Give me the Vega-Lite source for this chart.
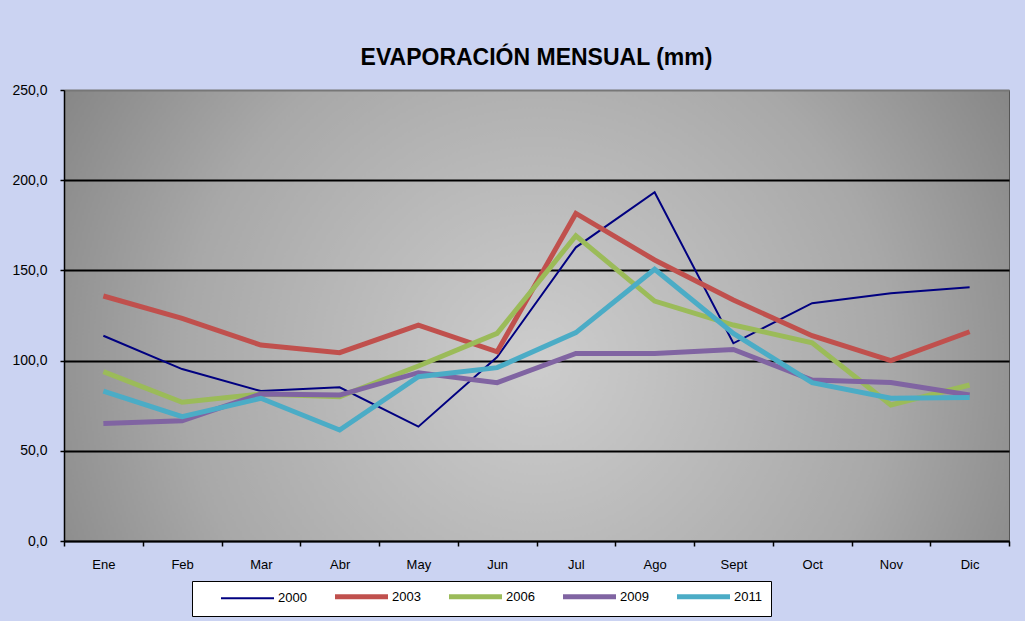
{
  "$schema": "https://vega.github.io/schema/vega-lite/v6.json",
  "width": 945,
  "height": 451,
  "autosize": "none",
  "padding": {"left": 64, "top": 90, "right": 16, "bottom": 80},
  "background": "#cbd3f2",
  "title": {
    "text": "EVAPORACIÓN  MENSUAL (mm)",
    "font": "Liberation Sans",
    "fontSize": 23,
    "fontWeight": "bold",
    "color": "black",
    "anchor": "middle",
    "offset": 13
  },
  "config": {
    "view": {
      "stroke": "#555555",
      "strokeWidth": 1,
      "fill": {
        "gradient": "radial",
        "x1": 0.5, "y1": 0.55, "r1": 0,
        "x2": 0.5, "y2": 0.55, "r2": 0.75,
        "stops": [
          {"offset": 0, "color": "#cdcdcd"},
          {"offset": 0.5, "color": "#a8a8a8"},
          {"offset": 1, "color": "#6a6a6a"}
        ]
      }
    },
    "axis": {
      "labelFont": "Liberation Sans",
      "labelFontSize": 13,
      "labelColor": "black",
      "domainColor": "black",
      "domainWidth": 1.5,
      "tickColor": "black",
      "tickWidth": 1.5,
      "tickSize": 5
    }
  },
  "data": {
    "values": [
      {"mes": "Ene", "anio": "2000", "v": 113.8},
      {"mes": "Feb", "anio": "2000", "v": 95.3},
      {"mes": "Mar", "anio": "2000", "v": 83.1},
      {"mes": "Abr", "anio": "2000", "v": 85.2},
      {"mes": "May", "anio": "2000", "v": 63.4},
      {"mes": "Jun", "anio": "2000", "v": 102.0},
      {"mes": "Jul", "anio": "2000", "v": 162.8},
      {"mes": "Ago", "anio": "2000", "v": 193.3},
      {"mes": "Sept", "anio": "2000", "v": 109.6},
      {"mes": "Oct", "anio": "2000", "v": 131.8},
      {"mes": "Nov", "anio": "2000", "v": 137.3},
      {"mes": "Dic", "anio": "2000", "v": 140.6},
      {"mes": "Ene", "anio": "2003", "v": 135.8},
      {"mes": "Feb", "anio": "2003", "v": 123.4},
      {"mes": "Mar", "anio": "2003", "v": 108.6},
      {"mes": "Abr", "anio": "2003", "v": 104.4},
      {"mes": "May", "anio": "2003", "v": 119.7},
      {"mes": "Jun", "anio": "2003", "v": 104.9},
      {"mes": "Jul", "anio": "2003", "v": 181.6},
      {"mes": "Ago", "anio": "2003", "v": 155.8},
      {"mes": "Sept", "anio": "2003", "v": 133.6},
      {"mes": "Oct", "anio": "2003", "v": 113.8},
      {"mes": "Nov", "anio": "2003", "v": 100.0},
      {"mes": "Dic", "anio": "2003", "v": 116.0},
      {"mes": "Ene", "anio": "2006", "v": 93.9},
      {"mes": "Feb", "anio": "2006", "v": 76.9},
      {"mes": "Mar", "anio": "2006", "v": 81.5},
      {"mes": "Abr", "anio": "2006", "v": 80.0},
      {"mes": "May", "anio": "2006", "v": 97.0},
      {"mes": "Jun", "anio": "2006", "v": 115.1},
      {"mes": "Jul", "anio": "2006", "v": 169.2},
      {"mes": "Ago", "anio": "2006", "v": 133.0},
      {"mes": "Sept", "anio": "2006", "v": 119.7},
      {"mes": "Oct", "anio": "2006", "v": 109.9},
      {"mes": "Nov", "anio": "2006", "v": 75.4},
      {"mes": "Dic", "anio": "2006", "v": 86.5},
      {"mes": "Ene", "anio": "2009", "v": 65.2},
      {"mes": "Feb", "anio": "2009", "v": 66.7},
      {"mes": "Mar", "anio": "2009", "v": 81.5},
      {"mes": "Abr", "anio": "2009", "v": 80.9},
      {"mes": "May", "anio": "2009", "v": 93.3},
      {"mes": "Jun", "anio": "2009", "v": 87.8},
      {"mes": "Jul", "anio": "2009", "v": 104.0},
      {"mes": "Ago", "anio": "2009", "v": 104.0},
      {"mes": "Sept", "anio": "2009", "v": 106.2},
      {"mes": "Oct", "anio": "2009", "v": 89.2},
      {"mes": "Nov", "anio": "2009", "v": 87.8},
      {"mes": "Dic", "anio": "2009", "v": 80.9},
      {"mes": "Ene", "anio": "2011", "v": 83.1},
      {"mes": "Feb", "anio": "2011", "v": 68.9},
      {"mes": "Mar", "anio": "2011", "v": 79.1},
      {"mes": "Abr", "anio": "2011", "v": 61.5},
      {"mes": "May", "anio": "2011", "v": 91.1},
      {"mes": "Jun", "anio": "2011", "v": 96.1},
      {"mes": "Jul", "anio": "2011", "v": 115.5},
      {"mes": "Ago", "anio": "2011", "v": 150.6},
      {"mes": "Sept", "anio": "2011", "v": 115.1},
      {"mes": "Oct", "anio": "2011", "v": 87.8},
      {"mes": "Nov", "anio": "2011", "v": 79.1},
      {"mes": "Dic", "anio": "2011", "v": 79.6}
    ]
  },
  "mark": {"type": "line", "strokeJoin": "miter"},
  "encoding": {
    "x": {
      "field": "mes",
      "type": "nominal",
      "sort": ["Ene","Feb","Mar","Abr","May","Jun","Jul","Ago","Sept","Oct","Nov","Dic"],
      "scale": {"type": "band", "paddingInner": 0, "paddingOuter": 0},
      "axis": {
        "title": null,
        "labelAngle": 0,
        "tickBand": "extent",
        "labelPadding": 12,
        "grid": false
      }
    },
    "y": {
      "field": "v",
      "type": "quantitative",
      "scale": {"domain": [0, 250], "nice": false},
      "axis": {
        "title": null,
        "values": [0, 50, 100, 150, 200, 250],
        "labelExpr": "replace(format(datum.value, '.1f'), '.', ',')",
        "labelFontSize": 14,
        "labelPadding": 13,
        "tickSize": 4,
        "grid": true,
        "gridColor": {"condition": {"test": "datum.value == 250", "value": "#777777"}, "value": "black"},
        "gridWidth": 2
      }
    },
    "color": {
      "field": "anio",
      "type": "nominal",
      "scale": {
        "domain": ["2000","2003","2006","2009","2011"],
        "range": ["#000080","#c0504d","#9bbb59","#8064a2","#4bacc6"]
      },
      "legend": {
        "title": null,
        "orient": "none",
        "legendX": 128,
        "legendY": 491,
        "direction": "horizontal",
        "symbolType": "stroke",
        "symbolSize": 64,
        "symbolOffset": 40,
        "labelFont": "Liberation Sans",
        "labelFontSize": 13,
        "labelColor": "black",
        "labelOffset": 24,
        "columnPadding": 8,
        "fillColor": "white",
        "strokeColor": "black",
        "padding": 9,
        "encode": {
          "symbols": {
            "update": {
              "size": {"value": 2809},
              "strokeWidth": {"signal": "datum.value === '2000' ? 2 : 5"}
            }
          }
        }
      }
    },
    "strokeWidth": {
      "condition": {"test": "datum.anio === '2000'", "value": 2},
      "value": 5
    }
  }
}
